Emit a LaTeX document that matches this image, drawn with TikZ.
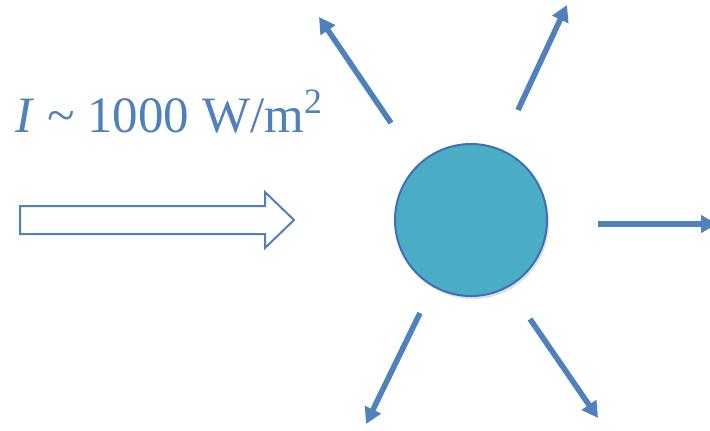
\documentclass[tikz,border=0pt]{standalone}
\usepackage{fontspec}
\setmainfont{Liberation Serif}
\usetikzlibrary{arrows.meta, shadows}

\definecolor{rayblue}{HTML}{4F81BD}
\definecolor{grainfill}{HTML}{4BACC6}
\definecolor{grainedge}{HTML}{3E70B8}

\begin{document}
\begin{tikzpicture}[
    x=0.5pt, y=-0.5pt,
    grain/.style={circle, draw=grainedge, line width=1pt, fill=grainfill, minimum size=76pt, inner sep=0pt,
                  drop shadow={opacity=0.25, shadow xshift=1pt, shadow yshift=-1.5pt}},
    beam/.style={draw=rayblue, line width=1pt, fill=white, line join=miter},
    ray/.style={draw=rayblue, line width=2.8pt, -{Triangle[length=8pt, width=8.5pt]}},
    caption/.style={text=rayblue, inner sep=0pt, font=\fontsize{25.5}{30}\selectfont}
]
\clip (0,0) rectangle (710,430);
\node (intensity) [caption, anchor=base west] at (15,132) {\textit{I} \textasciitilde\ 1000 W/m\textsuperscript{2}};
\draw [beam] (20,206) -- (265,206) -- (265,192) -- (294,220) -- (265,248) -- (265,234) -- (20,234) -- cycle;
\node (particle) [grain] at (471,220) {};
% scattered rays
\coordinate (ulA) at (391,123); \coordinate (ulB) at (319,17);
\coordinate (urA) at (518,110); \coordinate (urB) at (567,5);
\coordinate (rA)  at (598,224); \coordinate (rB)  at (717,224);
\coordinate (llA) at (420,313); \coordinate (llB) at (366,424);
\coordinate (lrA) at (530,319); \coordinate (lrB) at (598,418);
\draw [ray] (ulA) -- (ulB);
\draw [ray] (urA) -- (urB);
\draw [ray] (rA)  -- (rB);
\draw [ray] (llA) -- (llB);
\draw [ray] (lrA) -- (lrB);
\end{tikzpicture}
\end{document}
